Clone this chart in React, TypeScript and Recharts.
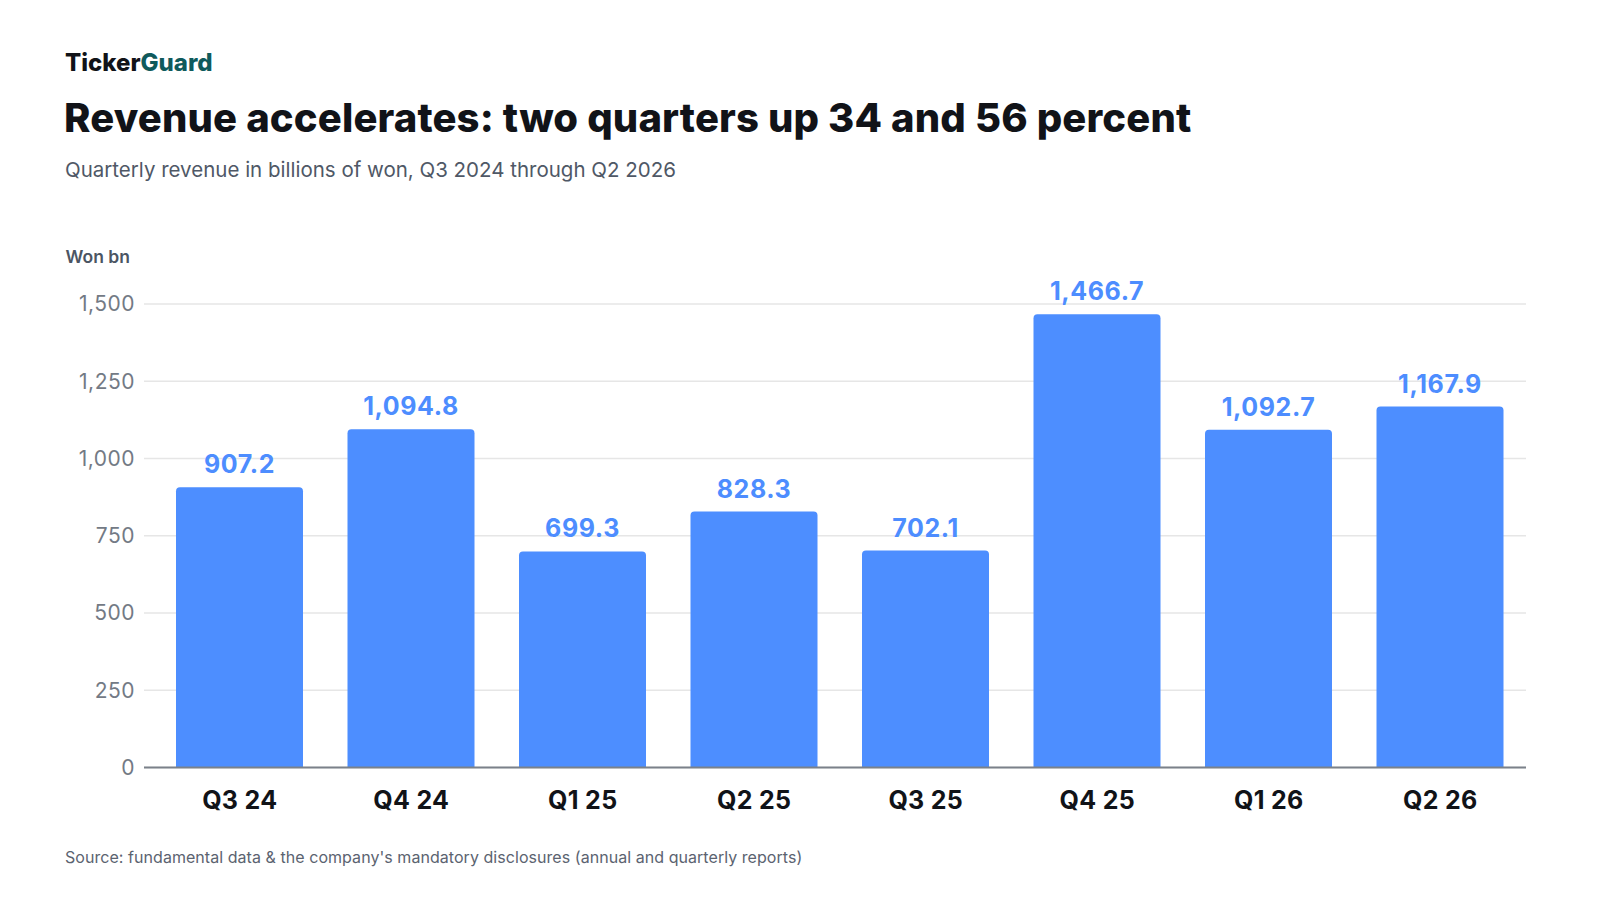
import React from "react";
import { BarChart, Bar, XAxis, YAxis, CartesianGrid, LabelList } from "recharts";

const quarters = ["Q3 24", "Q4 24", "Q1 25", "Q2 25", "Q3 25", "Q4 25", "Q1 26", "Q2 26"];
const revenue = [907.2, 1094.8, 699.3, 828.3, 702.1, 1466.7, 1092.7, 1167.9];
const yTicks = [0, 250, 500, 750, 1000, 1250, 1500];

const data = quarters.map((q, i) => ({ q, v: revenue[i] }));

const FONT = "Inter, 'Noto Sans', sans-serif";
const fmtTick = (v: number) => v.toLocaleString("en-US");
const fmtVal = (v: any) =>
  Number(v).toLocaleString("en-US", { minimumFractionDigits: 1, maximumFractionDigits: 1 });

export default function App() {
  return (
    <div style={{ position: "absolute", left: 0, top: 0, width: 1600, height: 900, background: "#fff", fontFamily: FONT }}>
      <svg width={1600} height={900} style={{ position: "absolute", left: 0, top: 0 }}>
        <text x={65} y={70.7} fontFamily={FONT} fontSize={24} fontWeight={800}>
          <tspan fill="#111318">Ticker</tspan>
          <tspan fill="#0f5a5c">Guard</tspan>
        </text>
        <text x={64} y={132.3} fontFamily={FONT} fontSize={40} fontWeight={800} fill="#111318" letterSpacing={0.15}>
          Revenue accelerates: two quarters up 34 and 56 percent
        </text>
        <text x={65} y={176.7} fontFamily={FONT} fontSize={20.5} fill="#4f5866">
          Quarterly revenue in billions of won, Q3 2024 through Q2 2026
        </text>
        <text x={65.5} y={263.3} fontFamily={FONT} fontSize={17.5} fontWeight={600} fill="#4b5563">
          Won bn
        </text>
        <text x={65} y={863.3} fontFamily={FONT} fontSize={16} fill="#5b6370" letterSpacing={0.05}>
          Source: fundamental data &amp; the company's mandatory disclosures (annual and quarterly reports)
        </text>
      </svg>
      <div style={{ position: "absolute", left: 0, top: 0 }}>
        <BarChart
          width={1600}
          height={900}
          data={data}
          margin={{ top: 304, right: 74, bottom: 72.5, left: 0 }}
        >
          <CartesianGrid vertical={false} stroke="#e6e6e6" strokeWidth={1.5} />
          <XAxis
            dataKey="q"
            height={60}
            padding={{ left: 10, right: 0 }}
            tickLine={false}
            tickSize={6}
            tickMargin={18}
            axisLine={{ stroke: "#7b818a", strokeWidth: 2 }}
            tick={{ fill: "#111318", fontSize: 25, fontWeight: 700, fontFamily: FONT, letterSpacing: 0.3 }}
            interval={0}
          />
          <YAxis
            width={144}
            domain={[0, 1500]}
            ticks={yTicks}
            tickFormatter={fmtTick}
            axisLine={false}
            tickLine={false}
            tickSize={6}
            tickMargin={3}
            tick={{ fill: "#737a85", fontSize: 21, fontFamily: FONT, letterSpacing: 0.5 }}
          />
          <Bar dataKey="v" fill="#4d8eff" barSize={127} radius={[4, 4, 0, 0]} isAnimationActive={false}>
            <LabelList
              dataKey="v"
              position="top"
              offset={14}
              formatter={fmtVal}
              style={{ fill: "#4d8dff", fontSize: 25, fontWeight: 700, fontFamily: FONT, letterSpacing: 0.6 }}
            />
          </Bar>
        </BarChart>
      </div>
    </div>
  );
}
